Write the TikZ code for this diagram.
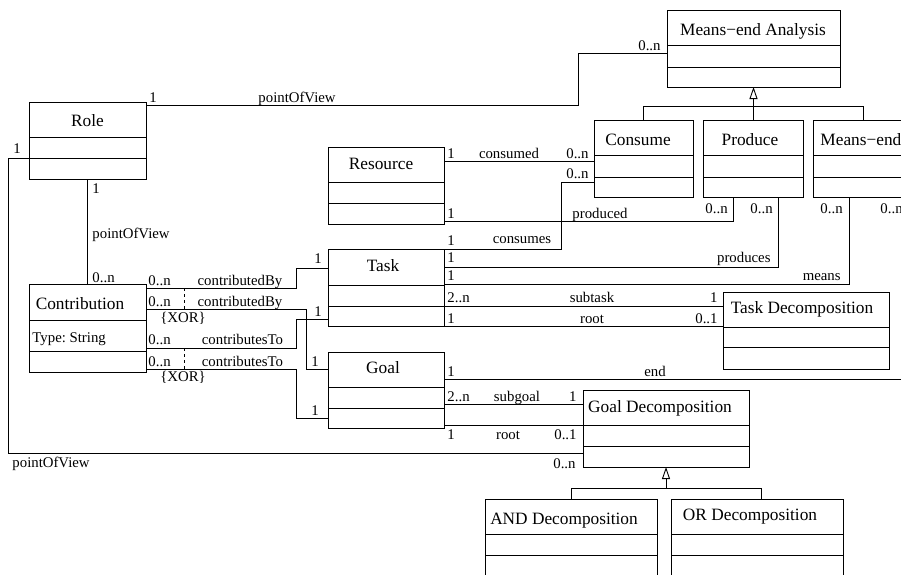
\documentclass[tikz,border=0pt]{standalone}
\usepackage{fontspec}
\setmainfont{Liberation Serif}
\usetikzlibrary{arrows.meta}
\frenchspacing

% UML class box: name, x1, y1, x2, y2, first divider, second divider
\newcommand\umlclass[7]{%
  \node[cls, minimum width={#4pt-#2pt}, minimum height={#5pt-#3pt}] (#1) at ({(#2+#4)/2},{(#3+#5)/2}) {};
  \draw (#1.west |- 0,#6) -- (#1.east |- 0,#6) (#1.west |- 0,#7) -- (#1.east |- 0,#7);
}

\begin{document}
\begin{tikzpicture}[x=1pt, y=-1pt, line width=0.9pt,
  cls/.style={draw, rectangle, inner sep=0pt, outer sep=0pt},
  cname/.style={font=\fontsize{17.3}{20}\selectfont, inner sep=0pt, anchor=base},
  lbl/.style={font=\fontsize{14.8}{17}\selectfont, inner sep=0pt},
  xor/.style={dash pattern=on 3pt off 3pt},
  gen/.style={-{Triangle[open, length=12pt, width=8pt]}}]
\useasboundingbox (0,0) rectangle (901,574);
\clip (0,0) rectangle (901,574);

% classes
\umlclass{mea}{667}{10}{840}{87}{45}{67}
\umlclass{role}{29}{102}{146}{179}{137}{158}
\umlclass{resource}{328}{147}{444}{224}{182}{203}
\umlclass{consume}{594}{120}{693}{197}{155}{177}
\umlclass{produce}{703}{120}{803}{197}{155}{177}
\umlclass{meansend}{813}{120}{913}{197}{155}{177}
\umlclass{task}{328}{249}{444}{326}{285}{306}
\umlclass{tdec}{723}{292}{889}{369}{327}{347}
\umlclass{contrib}{29}{284}{146}{372}{320}{351}
\umlclass{goal}{328}{352}{444}{428}{387}{408}
\umlclass{gdec}{583}{390}{749}{467}{425}{446}
\umlclass{anddec}{485}{499}{657}{600}{534}{555}
\umlclass{ordec}{671}{499}{843}{600}{534}{555}

% class names
\node[cname] (mea-n) at (753,35) {Means−end Analysis};
\node[cname] (role-n) at (87.5,126) {Role};
\node[cname] (resource-n) at (381,169) {Resource};
\node[cname] (consume-n) at (638,145) {Consume};
\node[cname] (produce-n) at (750,145) {Produce};
\node[cname, anchor=base west] (meansend-n) at (820,145) {Means−end};
\node[cname] (task-n) at (383,271) {Task};
\node[cname] (tdec-n) at (802,313) {Task Decomposition};
\node[cname] (contrib-n) at (80,309) {Contribution};
\node[lbl, anchor=base west] (contrib-a) at (32,342) {Type: String};
\node[cname] (goal-n) at (383,373) {Goal};
\node[cname] (gdec-n) at (660,412) {Goal Decomposition};
\node[cname] (anddec-n) at (564,524) {AND Decomposition};
\node[cname] (ordec-n) at (750,520) {OR Decomposition};

% generalisations
\draw[gen] (mea.south |- 0,106) -- (mea.south);
\draw (consume.north) |- (meansend.north |- 0,106) -- (meansend.north);
\draw (produce.north) -- (produce.north |- 0,106);
\draw[gen] (gdec.south |- 0,488) -- (gdec.south);
\draw (anddec.north) |- (761,488) -- (761,0 |- ordec.north);

% associations
\draw (role.east |- 0,105) -- (578,105) |- (mea.west |- 0,53);
\draw (resource.east |- 0,161) -- (consume.west |- 0,161);
\draw (consume.west |- 0,182) -- (561,182) |- (task.north east);
\draw (resource.east |- 0,221) -| (733,0 |- produce.south);
\draw (task.east |- 0,267) -| (778,0 |- produce.south);
\draw (task.east |- 0,284) -| (849,0 |- meansend.south);
\draw (goal.east |- 0,379) -| (906,0 |- meansend.south);
\draw (task.east |- 0,306) -- (tdec.west |- 0,306);
\draw (task.south east) -- (tdec.west |- task.south east);
\draw (goal.east |- 0,404) -- (gdec.west |- 0,404);
\draw (goal.east |- 0,425) -- (gdec.west |- 0,425);
\draw (role.west |- 0,158) -- (8,158) |- (gdec.west |- 0,453);
\draw (role.south) -- (contrib.north);
\draw (contrib.east |- 0,288) -- (296,288) |- (task.west |- 0,268);
\draw (contrib.east |- 0,309) -- (306,309) |- (goal.west |- 0,369);
\draw (contrib.east |- 0,348) -- (296,348) |- (task.west |- 0,319);
\draw (contrib.east |- 0,369) -- (296,369) |- (goal.west |- 0,418);
\coordinate (xa1) at (184,288); \coordinate (xa2) at (184,309);
\coordinate (xb1) at (184,348); \coordinate (xb2) at (184,369);
\draw[xor] (xa1) -- (xa2);
\draw[xor] (xb1) -- (xb2);

% association labels
\begin{scope}[every node/.style={lbl}]
\node[anchor=base west] (rm1) at (149,102) {1};
\node[anchor=base west] (rmt) at (258,102) {pointOfView};
\node[anchor=base east] (rmn) at (661,50) {0..n};
\node[anchor=base west] (cd1) at (447,158) {1};
\node[anchor=base] (cdt) at (509,158) {consumed};
\node[anchor=base east] (cdn) at (589,158) {0..n};
\node[anchor=base east] (csn) at (589,178) {0..n};
\node[anchor=base] (cst) at (522,243) {consumes};
\node[anchor=base west] (cs1) at (447,245.5) {1};
\node[anchor=base west] (pd1) at (447,218) {1};
\node[anchor=base] (pdt) at (600,218) {produced};
\node[anchor=base west] (pdn) at (705,213) {0..n};
\node[anchor=base west] (psn) at (750,213) {0..n};
\node[anchor=base west] (mnn) at (820,213) {0..n};
\node[anchor=base west] (enn) at (880,213) {0..n};
\node[anchor=base west] (ps1) at (447,262) {1};
\node[anchor=base east] (pst) at (771,262) {produces};
\node[anchor=base west] (mn1) at (447,280) {1};
\node[anchor=base east] (mnt) at (841,280) {means};
\node[anchor=base west] (st2) at (447,302) {2..n};
\node[anchor=base] (stt) at (592,302) {subtask};
\node[anchor=base east] (st1) at (718,302) {1};
\node[anchor=base west] (tr1) at (447,323) {1};
\node[anchor=base] (trt) at (592,323) {root};
\node[anchor=base east] (trn) at (718,323) {0..1};
\node[anchor=base west] (en1) at (447,376) {1};
\node[anchor=base] (ent) at (655,376) {end};
\node[anchor=base west] (sg2) at (447,401) {2..n};
\node[anchor=base] (sgt) at (517,401) {subgoal};
\node[anchor=base east] (sg1) at (577,401) {1};
\node[anchor=base west] (gr1) at (447,439) {1};
\node[anchor=base] (grt) at (508,439) {root};
\node[anchor=base east] (grn) at (577,439) {0..1};
\node[anchor=base] (rl1) at (17,153) {1};
\node[anchor=base west] (rlt) at (12,467) {pointOfView};
\node[anchor=base east] (rln) at (576,468) {0..n};
\node[anchor=base west] (rc1) at (92,193) {1};
\node[anchor=base west] (rct) at (92,238) {pointOfView};
\node[anchor=base west] (rcn) at (92,282) {0..n};
\node[anchor=base west] (ca0) at (148,285) {0..n};
\node[anchor=base] (cat) at (240,285) {contributedBy};
\node[anchor=base] (ca1) at (318,263) {1};
\node[anchor=base west] (cb0) at (148,306) {0..n};
\node[anchor=base] (cbt) at (240,306) {contributedBy};
\node[anchor=base] (cb1) at (315,366) {1};
\node[anchor=base west] (cc0) at (148,344) {0..n};
\node[anchor=base] (cct) at (242.5,344) {contributesTo};
\node[anchor=base] (cc1) at (318,316) {1};
\node[anchor=base west] (cd0) at (148,366) {0..n};
\node[anchor=base] (cdt2) at (242.5,366) {contributesTo};
\node[anchor=base] (cd1b) at (315,415) {1};
\node[anchor=base] (xora) at (183,322) {\{XOR\}};
\node[anchor=base] (xorb) at (183,381) {\{XOR\}};
\end{scope}
\end{tikzpicture}
\end{document}
